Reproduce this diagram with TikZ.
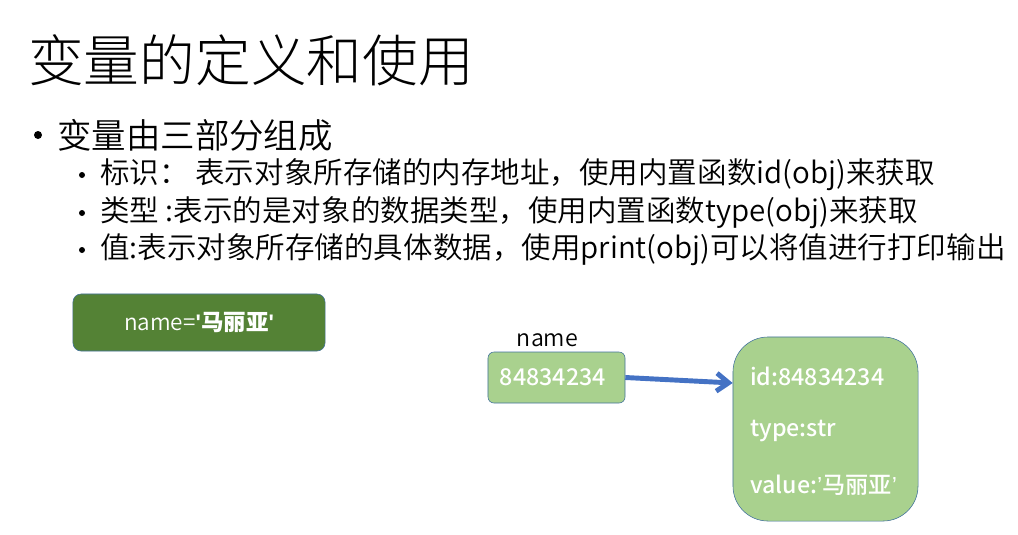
\documentclass[tikz,border=0pt]{standalone}
\usepackage{fontspec}
\setmainfont{Noto Sans CJK SC}
\newfontfamily\titlefont{Noto Sans CJK SC Light}
\newfontfamily\bodyfont{Noto Sans CJK SC DemiLight}
\newfontfamily\mediumfont{Noto Sans CJK SC Medium}
\newfontfamily\quotefont{Liberation Sans}
\usetikzlibrary{arrows.meta,positioning,calc}
\definecolor{darkgreen}{HTML}{548235}
\definecolor{lightgreen}{HTML}{A9D18E}
\definecolor{boxborder}{HTML}{41719C}
\definecolor{arrowblue}{HTML}{4472C4}
\newcommand{\sq}{{\quotefont\bfseries\char"27}}
\newcommand{\cq}{{\quotefont ’}}
\tikzset{
  line1/.style={anchor=west, inner sep=0, font=\bodyfont\fontsize{24.5}{28}\selectfont},
  line2/.style={anchor=west, inner sep=0, font=\bodyfont\fontsize{21}{25}\selectfont},
  varbox/.style={draw=boxborder, fill=darkgreen, rounded corners=0.2cm,
    minimum width=6.3cm, minimum height=1.425cm, text=white,
    font=\bodyfont\fontsize{16}{18}\selectfont},
  memcell/.style={draw=boxborder, fill=lightgreen, rounded corners=0.15cm,
    minimum height=1.275cm, text width=2.825cm, inner xsep=0.3cm, text=white,
    font=\mediumfont\fontsize{16.5}{19}\selectfont},
  objbox/.style={draw=boxborder, fill=lightgreen, rounded corners=0.875cm,
    minimum width=4.625cm, minimum height=4.6cm},
  objline/.style={anchor=west, inner sep=0, text=white,
    font=\mediumfont\fontsize{16.5}{19}\selectfont},
  pointer/.style={draw=arrowblue, line width=3.5pt,
    -{Straight Barb[length=0.3cm, width=0.45cm]}}
}
\begin{document}
\begin{tikzpicture}[x=0.025cm, y=-0.025cm]
        \useasboundingbox (0,0) rectangle (1018,534);
        % Title
        \node [anchor=west, inner sep=0, font=\titlefont\fontsize{39.6}{44}\selectfont]
            (title) at (28,60) {变量的定义和使用};
        % Bullets
        \fill (38,135) circle [radius=4];
        \node [line1] (parts) at (57,135) {变量由三部分组成};
            \foreach \y/\nm/\txt in {175/ident/{标识：\ 表示对象所存储的内存地址，使用内置函数id(obj)来获取},
                                     213/kind/{类型 :表示的是对象的数据类型，使用内置函数type(obj)来获取},
                                     250/val/{值:表示对象所存储的具体数据，使用print(obj)可以将值进行打印输出}}
        {
        \fill (82,\y) circle [radius=3];
        \node [line2] (\nm) at (100,\y) {\txt};
        }
        % Boxes
        \node [varbox] (var) at (199,322.5) {name=\sq{\normalfont\bfseries 马丽亚}\sq};
        \node [memcell] (cell) at (556.5,377.5) {84834234};
        \node [anchor=south west, inner sep=0, font=\bodyfont\fontsize{16.5}{19}\selectfont]
            (label) at ([xshift=0.725cm, yshift=0.12cm]cell.north west) {name};
        \node [objbox] (obj) at (825.5,429) {};
        \node [objline] (idline) at (750,376) {id:84834234};
        \node [objline] (typeline) at (750,431) {type:str};
        \node [objline] (valueline) at (750,485) {value:\cq 马丽亚\cq};
        % Arrow
        \draw [pointer] (cell.east) -- ($(obj.west |- idline)+(0,7)$);

\end{tikzpicture}
\end{document}
